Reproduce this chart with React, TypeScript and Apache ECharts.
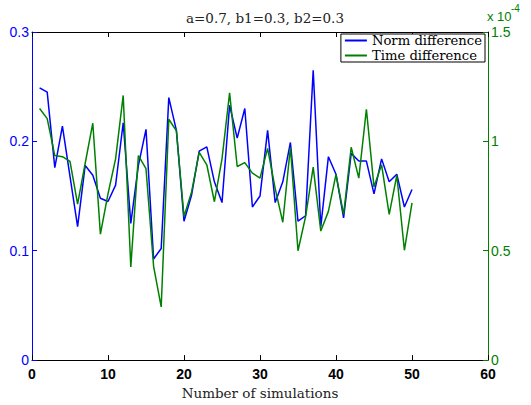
import React, { useEffect, useRef } from "react";
import * as echarts from "echarts";

const titleText = "a=0.7, b1=0.3, b2=0.3";
const xAxisName = "Number of simulations";
const seriesNames = ["Norm difference", "Time difference"];

const simulations = [
  1, 2, 3, 4, 5, 6, 7, 8, 9, 10, 11, 12, 13, 14, 15, 16, 17, 18, 19, 20, 21, 22, 23, 24, 25,
  26, 27, 28, 29, 30, 31, 32, 33, 34, 35, 36, 37, 38, 39, 40, 41, 42, 43, 44, 45, 46, 47, 48, 49, 50,
];

const normDifference = [
  0.249, 0.245, 0.176, 0.214, 0.168, 0.122, 0.178, 0.169, 0.148, 0.145,
  0.16, 0.217, 0.125, 0.178, 0.211, 0.0925, 0.102, 0.24, 0.21, 0.127,
  0.151, 0.191, 0.195, 0.163, 0.144, 0.233, 0.203, 0.23, 0.14, 0.15,
  0.21, 0.144, 0.163, 0.199, 0.127, 0.132, 0.265, 0.122, 0.186, 0.17,
  0.13, 0.189, 0.182, 0.182, 0.152, 0.184, 0.163, 0.17, 0.14, 0.156,
];

// in units of 1e-4
const timeDifferenceE4 = [
  1.15, 1.104, 0.935, 0.93, 0.908, 0.713, 0.9, 1.083, 0.576, 0.76,
  0.92, 1.21, 0.426, 0.935, 0.875, 0.429, 0.243, 1.101, 1.048, 0.657,
  0.769, 0.95, 0.893, 0.724, 0.92, 1.222, 0.885, 0.903, 0.855, 0.832,
  0.968, 0.784, 0.63, 0.973, 0.5, 0.656, 0.882, 0.59, 0.68, 0.849,
  0.666, 0.973, 0.832, 1.147, 0.792, 0.893, 0.666, 0.845, 0.502, 0.719,
];

const BLUE = "#0000ff";
const GREEN = "#008000";
const SERIF = "DejaVu Serif";
const SANS = "Liberation Sans";

export default function App() {
  const ref = useRef<HTMLDivElement>(null);
  useEffect(() => {
    if (!ref.current) return;
    const chart = echarts.init(ref.current, undefined, { renderer: "svg" });
    chart.setOption({
      animation: false,
      backgroundColor: "#ffffff",
      title: {
        text: titleText,
        left: 260,
        textAlign: "center",
        top: 6,
        textStyle: { fontFamily: SERIF, fontSize: 13.5, fontWeight: "normal", color: "#222" },
      },
      legend: {
        data: seriesNames,
        orient: "vertical",
        right: 46,
        top: 34,
        icon: "rect",
        itemWidth: 22,
        itemHeight: 2,
        itemGap: 2,
        itemTextGap: 3,
        padding: [0, 3, 0, 4],
        backgroundColor: "#ffffff",
        borderColor: "#000",
        borderWidth: 1,
        borderRadius: 0,
        z: 10,
        textStyle: { fontFamily: SERIF, fontSize: 13.2, lineHeight: 13, color: "#000" },
      },
      grid: { left: 32, right: 43, top: 32, bottom: 42, containLabel: false },
      graphic: [
        {
          type: "text",
          left: 487,
          top: 10,
          style: { text: "x 10", fill: GREEN, font: `13px ${SANS}` },
        },
        {
          type: "text",
          left: 511,
          top: 3,
          style: { text: "-4", fill: GREEN, font: `10px ${SANS}` },
        },
      ],
      xAxis: [
        {
          type: "value",
          position: "bottom",
          min: 0,
          max: 60,
          interval: 10,
          axisLine: { show: true, onZero: false, lineStyle: { color: "#000", width: 1 } },
          axisTick: { show: true, inside: true, length: 5, lineStyle: { color: "#000" } },
          axisLabel: {
            color: "#000",
            fontFamily: SANS,
            fontSize: 14,
            lineHeight: 14,
            fontWeight: "bold",
            margin: 7,
            showMinLabel: true,
            showMaxLabel: true,
          },
          splitLine: { show: false },
          name: xAxisName,
          nameLocation: "middle",
          nameGap: 21,
          nameTextStyle: { fontFamily: SERIF, fontSize: 13.5, color: "#222" },
        },
        {
          type: "value",
          position: "top",
          min: 0,
          max: 60,
          interval: 10,
          axisLine: { show: true, onZero: false, lineStyle: { color: "#000", width: 1 } },
          axisTick: { show: true, inside: true, length: 5, lineStyle: { color: "#000" } },
          axisLabel: { show: false },
          splitLine: { show: false },
        },
      ],
      yAxis: [
        {
          type: "value",
          position: "left",
          min: 0,
          max: 0.3,
          interval: 0.1,
          axisLine: { show: true, onZero: false, lineStyle: { color: BLUE, width: 1 } },
          axisTick: { show: true, inside: true, length: 5, lineStyle: { color: BLUE } },
          axisLabel: {
            color: BLUE,
            fontFamily: SANS,
            fontSize: 14,
            lineHeight: 12,
            margin: 3,
            showMinLabel: true,
            showMaxLabel: true,
            formatter: (v: number) => String(Math.round(v * 10) / 10),
          },
          splitLine: { show: false },
        },
        {
          type: "value",
          position: "right",
          min: 0,
          max: 1.5,
          interval: 0.5,
          axisLine: { show: true, onZero: false, lineStyle: { color: GREEN, width: 1 } },
          axisTick: { show: true, inside: true, length: 5, lineStyle: { color: GREEN } },
          axisLabel: {
            color: GREEN,
            fontFamily: SANS,
            fontSize: 14,
            lineHeight: 12,
            margin: 3,
            showMinLabel: true,
            showMaxLabel: true,
          },
          splitLine: { show: false },
        },
      ],
      series: [
        {
          name: seriesNames[0],
          type: "line",
          xAxisIndex: 0,
          yAxisIndex: 0,
          symbol: "none",
          data: simulations.map((x, i) => [x, normDifference[i]]),
          lineStyle: { color: BLUE, width: 1.5 },
          itemStyle: { color: BLUE },
        },
        {
          name: seriesNames[1],
          type: "line",
          xAxisIndex: 0,
          yAxisIndex: 1,
          symbol: "none",
          data: simulations.map((x, i) => [x, timeDifferenceE4[i]]),
          lineStyle: { color: GREEN, width: 1.5 },
          itemStyle: { color: GREEN },
        },
      ],
    });
    return () => chart.dispose();
  }, []);
  return (
    <div
      ref={ref}
      style={{ position: "fixed", left: 0, top: 0, width: 531, height: 405, background: "#fff" }}
    />
  );
}
